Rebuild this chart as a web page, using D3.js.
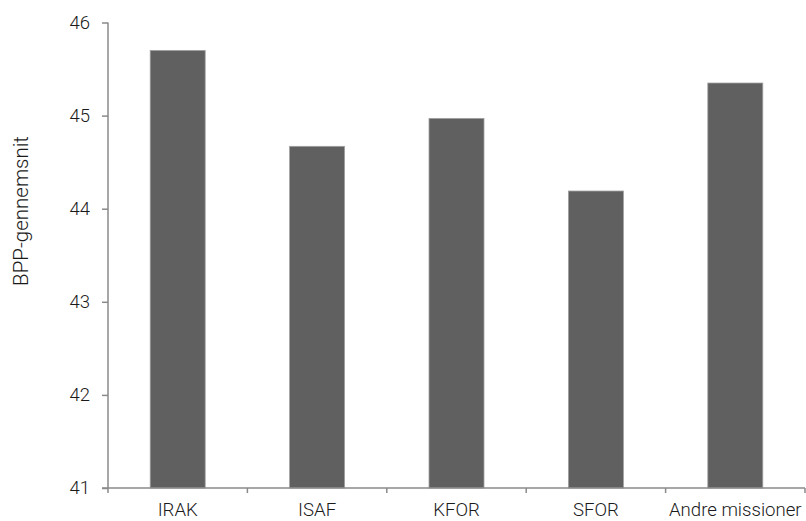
<!DOCTYPE html>
<html>
<head>
<meta charset="utf-8">
<script src="https://cdn.jsdelivr.net/npm/d3@7"></script>
<style>
  html, body { margin: 0; padding: 0; background: #fff; }
  svg { display: block; }
  text { font-family: Roboto, "DejaVu Sans", sans-serif; font-weight: 300; fill: #1a1a1a; }
</style>
</head>
<body>
<svg id="chart" width="806" height="521"></svg>
<script>
const categories = ["IRAK", "ISAF", "KFOR", "SFOR", "Andre missioner"];
const values = [45.70, 44.67, 44.97, 44.19, 45.35];
const yTicks = [41, 42, 43, 44, 45, 46];
const yLabel = "BPP-gennemsnit";

const W = 806, H = 521;
const m = { left: 108, right: 1, top: 22.5, bottom: 33 };
const svg = d3.select("#chart");

const pad = 0.6055;
const x = d3.scaleBand().domain(categories)
  .range([m.left, W - m.right]).paddingInner(pad).paddingOuter(pad / 2);
const y = d3.scaleLinear().domain([41, 46]).range([H - m.bottom, m.top]);

const axisColor = "#8a8a8a";

// bars
svg.append("g").selectAll("rect").data(categories).join("rect")
  .attr("x", d => x(d))
  .attr("y", (d, i) => y(values[i]))
  .attr("width", x.bandwidth())
  .attr("height", (d, i) => y(41) - y(values[i]))
  .attr("fill", "#606060")
  .attr("stroke", "#a0a0a0")
  .attr("stroke-width", 0.8);

// y axis
const yAxis = d3.axisLeft(y).tickValues(yTicks).tickSize(6).tickPadding(12).tickFormat(d3.format("d"));
const gy = svg.append("g").attr("transform", `translate(${m.left},0)`).call(yAxis);
gy.select(".domain").attr("stroke", axisColor).attr("stroke-width", 1.5).attr("d", `M0,${y(46)}V${y(41)}`);
gy.selectAll(".tick line").attr("stroke", axisColor).attr("stroke-width", 1.5);
gy.selectAll(".tick text").attr("font-size", 18.5).style("font-family", "Roboto, sans-serif").style("font-weight", 300).attr("fill", "#1a1a1a");

// x axis
const step = x.step();
const boundaries = categories.map(c => x(c) - step * pad / 2).concat([x(categories[categories.length - 1]) + x.bandwidth() + step * pad / 2]);
const gx = svg.append("g");
gx.append("line")
  .attr("x1", boundaries[0] - 6).attr("x2", boundaries[boundaries.length - 1])
  .attr("y1", y(41)).attr("y2", y(41))
  .attr("stroke", axisColor).attr("stroke-width", 1.5);
gx.selectAll(".bt").data(boundaries).join("line")
  .attr("x1", d => d).attr("x2", d => d)
  .attr("y1", y(41)).attr("y2", y(41) + 5)
  .attr("stroke", axisColor).attr("stroke-width", 1.5);
gx.selectAll("text").data(categories).join("text")
  .attr("x", d => x(d) + x.bandwidth() / 2)
  .attr("y", 516.3)
  .attr("text-anchor", "middle")
  .attr("font-size", 18.6)
  .text(d => d);

// y label
svg.append("text")
  .attr("transform", `translate(28,211) rotate(-90)`)
  .attr("text-anchor", "middle")
  .attr("font-size", 20.5)
  .text(yLabel);
</script>
</body>
</html>
